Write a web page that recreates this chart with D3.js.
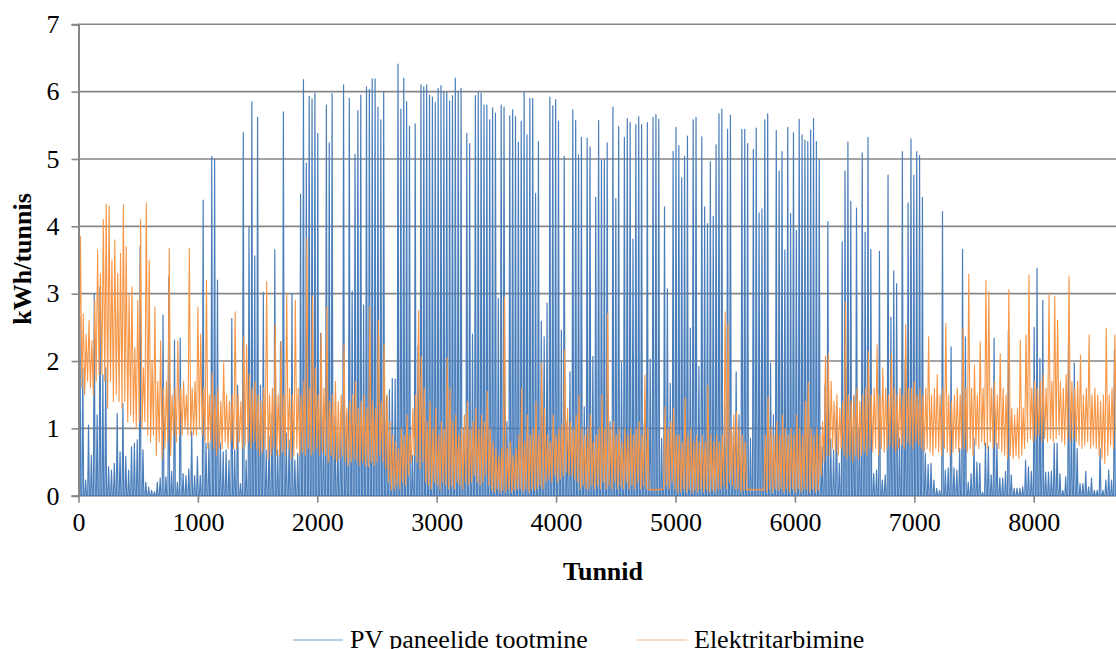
<!DOCTYPE html>
<html><head><meta charset="utf-8">
<script src="https://cdn.jsdelivr.net/npm/d3@7"></script>
<style>
body{margin:0;background:#fff}
svg{display:block}
text{font-family:"Liberation Serif","Times New Roman",serif;fill:#000}
</style>
</head><body>
<svg id="chart" width="1116" height="649"></svg>
<script>
// ---- data ----
const yTickValues = [0, 1, 2, 3, 4, 5, 6, 7];
const xTickValues = [0, 1000, 2000, 3000, 4000, 5000, 6000, 7000, 8000];
const xAxisTitle = "Tunnid";
const yAxisTitle = "kWh/tunnis";
const seriesNames = ["PV paneelide tootmine", "Elektritarbimine"];
const hoursInYear = 8760;

// PV: daily noon peak (kWh per hour), night hours are 0
const pvDailyPeak = [
 2.66,1.9,0.23,1.05,0.6,3.0,1.2,3.1,1.8,1.9, 0.43,0.38,0.48,1.22,0.65,1.37,0.58,0.38,0.73,0.78,
 0.83,3.7,0.68,0.2,0.13,0.08,0.06,0.2,0.26,2.68, 0.28,3.25,0.36,2.31,0.2,2.34,0.33,0.3,0.4,0.95,
 0.3,0.58,0.3,4.39,0.78,0.78,5.04,5.0,3.2,0.78, 0.65,0.68,
 0.53,2.63,0.68,1.64,0.18,5.39,0.53,4.0,5.85,3.56, 5.62,1.64,3.02,0.68,0.88,1.2,3.65,0.68,2.29,5.7,
 0.93,0.83,3.0,0.53,0.63,4.48,6.18,4.94,5.93,5.89, 5.98,5.38,2.41,1.17,5.8,5.24,5.97,1.17,0.93,1.22,
 6.1,1.2,5.9,3.04,5.07,5.72,5.95,2.83,6.07,6.03, 6.19,6.19,
 5.77,5.58,6.0,1.47,1.57,1.74,1.73,6.41,5.74,6.2, 5.85,5.49,0.6,5.52,2.22,6.1,6.07,6.1,5.95,5.92,
 5.84,6.05,6.09,5.99,5.99,5.86,5.94,6.2,6.0,6.05, 1.0,5.38,5.23,2.4,5.94,6.0,5.98,5.8,5.8,5.58,
 5.76,5.68,2.93,5.8,5.77,1.1,5.64,5.73,5.63,5.25, 5.56,6.0,5.36,
 5.9,5.9,4.49,5.26,2.59,2.36,2.86,5.92,5.79,5.88, 5.56,2.46,5.04,1.1,1.84,5.73,5.57,5.06,5.32,1.32,
 5.31,5.18,2.07,4.43,5.57,4.98,5.0,5.24,1.1,5.77, 4.41,5.48,1.98,5.32,5.6,5.54,3.81,5.51,5.63,5.51,
 1.1,5.54,2.03,5.62,5.66,5.59,0.85,4.29,3.07,1.67, 5.11,5.47,
 5.2,4.72,5.04,5.34,2.49,5.58,5.62,1.92,5.33,4.29, 4.04,4.96,4.15,5.21,5.67,5.74,1.37,5.44,5.65,0.93,
 1.84,1.2,5.44,5.44,5.23,0.85,5.14,5.46,4.2,4.26, 5.58,5.67,1.97,1.2,5.42,4.82,5.11,3.65,5.47,4.19,
 5.39,3.94,5.59,5.36,5.28,5.26,5.43,5.6,5.26,4.99, 0.73,1.64,
 4.07,0.85,0.68,1.32,0.48,3.77,4.82,5.25,4.37,1.47, 4.27,0.98,5.09,3.91,5.32,3.66,0.33,0.38,3.63,0.23,
 0.31,4.76,2.65,3.34,3.15,0.85,5.11,2.02,4.35,5.3, 4.76,5.11,5.05,4.43,0.63,0.46,0.48,0.23,0.11,0.08,
 4.22,0.38,0.41,2.21,0.41,0.38,0.7,3.66,2.36,0.2, 0.33,0.85,0.5,
 0.48,0.05,0.78,0.73,0.31,2.34,0.78,0.26,0.26,0.36, 2.46,0.31,0.11,0.11,0.11,0.13,0.53,0.43,0.36,2.5,
 3.38,2.04,2.9,0.35,0.35,0.36,0.78,0.78,0.33,0.08, 0.28,2.41,1.25,1.97,0.7,0.18,0.18,0.36,0.13,0.26,
 0.08,0.08,0.7,0.08,0.23,0.38,0.23,2.16, 2.11,2.34,0.3
];

// Electricity use: daily low and daily high (kWh per hour)
const consDailyLow = [
 1.3,1.6,1.5,1.7,1.6,1.5,1.7,1.8,1.8,1.7, 1.3,1.7,1.4,1.5,1.4,1.3,1.4,1.1,1.2,1.1,
 1.0,1.1,1.0,1.1,0.9,0.8,0.9,0.6,0.8,0.55, 0.7,0.8,0.6,0.9,0.8,0.9,0.9,1.0,0.9,0.9,
 0.9,0.9,1.0,0.9,0.8,0.7,0.8,0.7,0.6,0.7, 0.7,0.8,0.7,0.8,0.7,0.7,0.8,0.7,0.75,0.8,
 0.7,0.8,0.7,0.6,0.65,0.7,0.55,0.6,0.7,0.6, 0.6,0.65,0.6,0.7,0.55,0.6,0.7,0.6,0.65,0.6,
 0.7,0.6,0.65,0.7,0.6,0.65,0.6,0.5,0.6,0.55, 0.5,0.55,0.6,0.5,0.45,0.5,0.55,0.5,0.45,0.5,
 0.45,0.43,0.5,0.45,0.5,0.6,0.5,0.4,0.2,0.08, 0.1,0.15,0.1,0.2,0.15,0.3,0.5,0.6,0.5,0.4,
 0.5,0.2,0.15,0.1,0.2,0.15,0.1,0.2,0.15,0.1, 0.15,0.1,0.2,0.15,0.1,0.2,0.15,0.2,0.3,0.2,
 0.15,0.2,0.3,0.15,0.08,0.05,0.1,0.05,0.08,0.05, 0.1,0.05,0.08,0.1,0.1,0.05,0.1,0.05,0.1,0.08,
 0.1,0.15,0.1,0.2,0.25,0.2,0.3,0.2,0.25,0.3, 0.35,0.3,0.3,0.25,0.2,0.1,0.15,0.1,0.1,0.15,
 0.1,0.15,0.1,0.2,0.1,0.15,0.1,0.2,0.1,0.15, 0.1,0.2,0.1,0.15,0.1,0.2,0.1,0.15,0.1,0.08,
 0.08,0.08,0.08,0.08,0.1,0.15,0.1,0.2,0.1,0.05, 0.05,0.1,0.05,0.1,0.05,0.08,0.05,0.1,0.05,0.1,
 0.05,0.08,0.05,0.1,0.1,0.15,0.1,0.2,0.15,0.1, 0.1,0.05,0.08,0.08,0.08,0.08,0.08,0.08,0.08,0.08,
 0.05,0.1,0.05,0.1,0.08,0.1,0.05,0.1,0.05,0.1, 0.05,0.1,0.05,0.1,0.1,0.05,0.1,0.05,0.08,0.3,
 0.5,0.6,0.6,0.7,0.65,0.6,0.7,0.6,0.55,0.6, 0.5,0.6,0.55,0.6,0.65,0.6,0.7,0.65,0.7,0.6,
 0.7,0.65,0.7,0.75,0.7,0.65,0.7,0.75,0.7,0.8, 0.75,0.7,0.8,0.75,0.7,0.65,0.7,0.65,0.6,0.7,
 0.65,0.6,0.7,0.65,0.6,0.65,0.7,0.65,0.7,0.7, 0.65,0.7,0.6,0.75,0.7,0.8,0.75,0.7,0.8,0.7,
 0.75,0.7,0.65,0.6,0.55,0.6,0.55,0.6,0.55,0.6, 0.7,0.8,0.85,0.8,0.85,0.9,0.8,0.85,0.8,0.85,
 0.8,0.85,0.9,0.8,0.75,0.85,0.8,0.85,0.8,0.75, 0.7,0.75,0.8,0.7,0.75,0.7,0.6,0.55,0.48,0.6,
 0.75,0.7,0.8,0.75,0.7
];
const consDailyHigh = [
 3.85,2.7,2.4,2.6,2.3,2.9,3.65,3.3,4.1,4.33, 4.3,3.5,3.8,3.3,3.6,4.32,3.7,3.0,3.1,2.2,
 2.9,4.1,1.9,4.35,3.5,2.0,2.8,1.7,2.3,1.6, 1.7,3.67,1.5,1.6,2.3,1.6,1.7,1.5,3.67,1.6,
 1.7,2.8,2.4,1.6,3.2,1.5,1.82,1.5,1.6,1.4, 1.97,1.5,1.4,1.5,2.73,1.5,1.4,2.36,2.24,1.8,
 1.6,1.7,1.5,1.4,1.6,3.18,1.5,1.6,2.54,1.5, 2.29,1.5,3.0,1.6,1.5,2.9,1.6,1.5,1.7,3.82,
 1.6,2.97,1.9,1.5,2.41,1.6,2.81,1.4,1.5,1.7, 1.4,1.5,2.24,1.3,1.4,1.5,1.7,1.3,1.4,1.5,
 1.3,2.81,1.4,1.3,2.6,1.4,2.25,1.5,1.1,0.9, 0.8,0.7,1.0,0.9,1.2,0.9,1.3,1.5,2.75,2.07,
 1.6,1.1,1.4,1.0,1.3,0.9,1.1,1.0,2.05,1.6, 1.1,1.2,0.9,1.0,1.2,1.4,1.0,1.1,1.3,1.0,
 1.2,1.1,1.55,1.0,0.8,0.7,0.6,0.7,2.95,0.7, 0.8,0.6,0.7,0.9,1.6,0.8,1.2,0.9,1.0,1.4,
 0.9,1.97,1.3,0.9,0.8,1.2,0.9,1.0,1.05,2.17, 1.3,1.1,1.0,1.2,1.5,1.0,0.9,1.0,1.2,0.8,
 0.9,1.0,1.5,1.0,2.71,1.0,1.1,0.9,1.0,0.8, 1.0,0.9,1.0,0.9,1.0,1.1,0.9,1.79,1.0,0.1,
 0.1,0.1,0.1,0.1,1.32,1.0,1.1,1.3,0.9,0.9, 0.8,1.45,0.9,1.0,0.8,0.9,0.8,0.9,0.8,1.64,
 0.9,0.8,0.9,0.8,0.9,2.73,2.56,1.0,1.2,1.25, 1.0,0.9,0.8,0.1,0.1,0.1,0.1,0.1,0.1,0.9,
 1.47,1.0,0.9,1.1,0.9,1.2,1.0,0.9,1.0,0.9, 1.2,1.0,0.9,1.4,1.69,1.0,0.9,1.0,0.9,1.1,
 2.07,2.11,1.7,1.4,1.5,1.3,1.4,2.88,1.5,1.4, 1.5,1.6,1.4,1.5,1.6,2.14,1.5,1.6,2.24,1.5,
 1.9,1.6,1.5,2.11,1.6,1.5,1.6,1.5,2.54,1.6, 1.6,1.7,1.5,1.6,1.5,1.6,2.36,1.5,1.6,1.8,
 1.5,1.6,2.56,1.5,1.4,1.5,1.6,1.5,2.49,1.6, 3.29,1.6,1.94,1.5,2.29,1.6,3.2,3.03,1.6,1.7,
 1.5,2.11,1.6,1.5,3.06,1.3,1.2,1.3,2.31,1.3, 2.39,3.28,1.6,1.7,1.6,1.7,1.8,1.6,2.98,1.7,
 2.96,2.61,1.7,1.6,1.8,3.26,1.7,1.6,1.7,2.09, 1.5,1.6,2.39,1.5,1.6,1.5,1.4,1.5,2.49,1.5,
 1.6,2.39,1.7,1.6,1.5
];

// ---- layout ----
const svg = d3.select("#chart");
const plotLeft = 78.5, plotTop = 24.3, plotBottom = 495.7;
const pxPerHour = 0.1194;
const x = d3.scaleLinear().domain([0, hoursInYear]).range([plotLeft, plotLeft + hoursInYear * pxPerHour]);
const y = d3.scaleLinear().domain([0, 7]).range([plotBottom, plotTop]);
const gridColor = "#868686";
const pvColor = "#4A7EBB";
const consColor = "#F79646";

// gridlines
svg.append("g").selectAll("line").data(yTickValues).join("line")
  .attr("x1", plotLeft).attr("x2", 1116)
  .attr("y1", d => y(d)).attr("y2", d => y(d))
  .attr("stroke", gridColor).attr("stroke-width", 1.6);

// series points (day index -> hourly positions)
const pvPoints = [];
pvDailyPeak.forEach((v, d) => {
  pvPoints.push([d * 24 + 5, 0], [d * 24 + 12, v], [d * 24 + 19, 0]);
});
const consPoints = [];
consDailyLow.forEach((lo, d) => {
  consPoints.push([d * 24 + 4, lo], [d * 24 + 16, consDailyHigh[d]]);
});

const line = d3.line().x(p => x(p[0])).y(p => y(p[1]));

svg.append("path").datum(pvPoints)
  .attr("d", line).attr("fill", "none")
  .attr("stroke", pvColor).attr("stroke-width", 1.2).attr("stroke-linejoin", "round");
svg.append("path").datum(consPoints)
  .attr("d", line).attr("fill", "none")
  .attr("stroke", consColor).attr("stroke-width", 1.1).attr("stroke-linejoin", "round");

// y axis
const yAxis = d3.axisLeft(y).tickValues(yTickValues).tickSize(7).tickPadding(12).tickFormat(d3.format("d"));
const gy = svg.append("g").attr("transform", `translate(${plotLeft},0)`).call(yAxis);
gy.select(".domain").attr("stroke", gridColor).attr("stroke-width", 2);
gy.selectAll(".tick line").attr("stroke", gridColor).attr("stroke-width", 1.6);
gy.selectAll(".tick text").attr("font-size", 26).attr("font-family", '"Liberation Serif", serif').attr("fill", "#000");

// x axis
const xAxis = d3.axisBottom(x).tickValues(xTickValues).tickSize(7).tickPadding(10).tickFormat(d3.format("d"));
const gx = svg.append("g").attr("transform", `translate(0,${plotBottom})`).call(xAxis);
gx.select(".domain").remove();
gx.selectAll(".tick line").attr("stroke", gridColor).attr("stroke-width", 1.6);
gx.selectAll(".tick text").attr("font-size", 26).attr("font-family", '"Liberation Serif", serif').attr("fill", "#000");

// axis titles
svg.append("text").attr("x", 603).attr("y", 580).attr("text-anchor", "middle")
  .attr("font-size", 26).attr("font-weight", "bold").text(xAxisTitle);
svg.append("text").attr("transform", "translate(31,259) rotate(-90)").attr("text-anchor", "middle")
  .attr("font-size", 26).attr("font-weight", "bold").text(yAxisTitle);

// legend
const legend = [
  {name: seriesNames[0], color: pvColor, x: 293},
  {name: seriesNames[1], color: consColor, x: 637}
];
const lg = svg.append("g").selectAll("g").data(legend).join("g");
lg.append("line").attr("x1", d => d.x).attr("x2", d => d.x + 50)
  .attr("y1", 640).attr("y2", 640).attr("stroke", d => d.color).attr("stroke-width", 1.2)
  .attr("stroke-opacity", 0.75);
lg.append("text").attr("x", d => d.x + 57).attr("y", 648).attr("font-size", 26).text(d => d.name);
</script>
</body></html>
